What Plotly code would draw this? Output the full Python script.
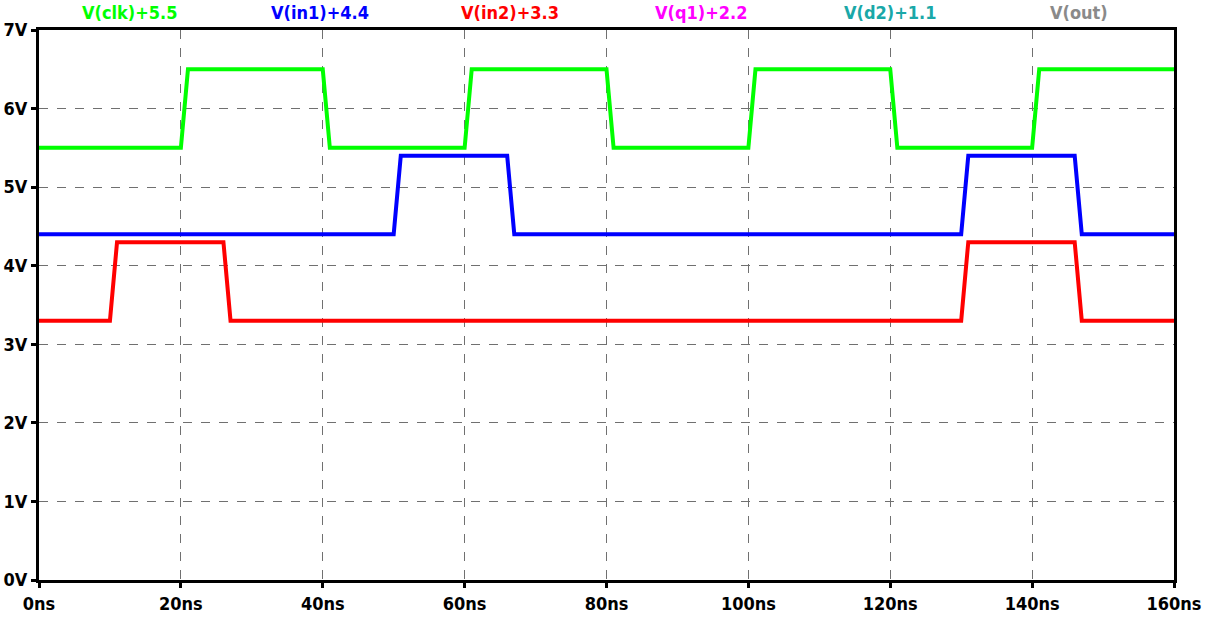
import plotly.graph_objects as go

# breakpoints (ns) and logic levels (V) for each probed node
clk_t = [0, 20, 21, 40, 41, 60, 61, 80, 81, 100, 101, 120, 121, 140, 141, 160]
clk_v = [0, 0, 1, 1, 0, 0, 1, 1, 0, 0, 1, 1, 0, 0, 1, 1]

in1_t = [0, 50, 51, 66, 67, 130, 131, 146, 147, 160]
in1_v = [0, 0, 1, 1, 0, 0, 1, 1, 0, 0]

in2_t = [0, 10, 11, 26, 27, 130, 131, 146, 147, 160]
in2_v = [0, 0, 1, 1, 0, 0, 1, 1, 0, 0]

labels = ["V(clk)+5.5", "V(in1)+4.4", "V(in2)+3.3", "V(q1)+2.2", "V(d2)+1.1", "V(out)"]
label_colors = ["#00ff00", "#0000ff", "#ff0000", "#ff00ff", "#1aa8a8", "#8a8a8a"]
label_pos = [0.080, 0.248, 0.415, 0.583, 0.750, 0.916]
offsets = [5.5, 4.4, 3.3]

x_ticks = [0, 20, 40, 60, 80, 100, 120, 140, 160]
x_text = ["0ns", "20ns", "40ns", "60ns", "80ns", "100ns", "120ns", "140ns", "160ns"]
y_ticks = [0, 1, 2, 3, 4, 5, 6, 7]
y_text = ["0V", "1V", "2V", "3V", "4V", "5V", "6V", "7V"]

FONT = "DejaVu Sans Condensed, Liberation Sans Narrow, sans-serif"

fig = go.Figure()

# draw in reverse so clk sits on top
series = [(in2_t, in2_v, 2), (in1_t, in1_v, 1), (clk_t, clk_v, 0)]
for t, v, i in series:
    fig.add_trace(
        go.Scatter(
            x=t,
            y=[val + offsets[i] for val in v],
            mode="lines",
            name=labels[i],
            line={"color": label_colors[i], "width": 4},
            showlegend=False,
        )
    )

# trace names above the plot
for name, col, pos in zip(labels, label_colors, label_pos):
    fig.add_annotation(
        x=pos,
        y=1.0,
        xref="paper",
        yref="paper",
        xanchor="center",
        yanchor="bottom",
        yshift=5,
        text=f"<b>{name}</b>",
        showarrow=False,
        font={"color": col, "size": 18, "family": FONT},
    )

axis_common = dict(
    showline=True,
    linecolor="black",
    linewidth=3,
    mirror=True,
    showgrid=True,
    gridcolor="#707070",
    griddash="dash",
    gridwidth=1,
    ticks="outside",
    ticklen=5,
    tickwidth=3,
    tickcolor="black",
    zeroline=False,
    automargin=False,
    tickfont={"family": FONT, "size": 18, "color": "black", "weight": "bold"},
)

fig.update_xaxes(
    range=[0, 160],
    tickvals=x_ticks,
    ticktext=x_text,
    **axis_common,
)
fig.update_yaxes(
    range=[0, 7],
    tickvals=y_ticks,
    ticktext=y_text,
    ticklabelstandoff=0,
    **axis_common,
)

fig.update_layout(
    width=1206,
    height=623,
    margin={"l": 39, "r": 32, "t": 30, "b": 43},
    plot_bgcolor="white",
    paper_bgcolor="white",
)

# drop the browser's default body margin so the figure fills the window
fig.write_html(
    "out.html",
    config={"displayModeBar": False},
    post_script="document.body.style.margin = '0';",
)
